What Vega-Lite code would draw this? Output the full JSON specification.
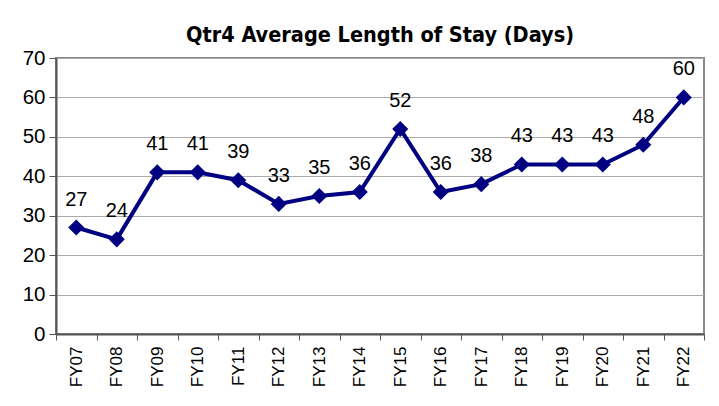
{
  "$schema": "https://vega.github.io/schema/vega-lite/v6.json",
  "width": 648,
  "height": 276,
  "autosize": {"type": "none"},
  "padding": {"left": 56, "top": 58, "right": 15, "bottom": 72},
  "background": "white",
  "title": {
    "text": "Qtr4 Average Length of Stay (Days)",
    "font": "DejaVu Sans Condensed, Roboto Condensed, Roboto, sans-serif",
    "fontSize": 21.5,
    "fontWeight": "bold",
    "color": "black",
    "anchor": "middle",
    "offset": 2
  },
  "data": {
    "values": [
      {"fy": "FY07", "v": 27},
      {"fy": "FY08", "v": 24},
      {"fy": "FY09", "v": 41},
      {"fy": "FY10", "v": 41},
      {"fy": "FY11", "v": 39},
      {"fy": "FY12", "v": 33},
      {"fy": "FY13", "v": 35},
      {"fy": "FY14", "v": 36},
      {"fy": "FY15", "v": 52},
      {"fy": "FY16", "v": 36},
      {"fy": "FY17", "v": 38},
      {"fy": "FY18", "v": 43},
      {"fy": "FY19", "v": 43},
      {"fy": "FY20", "v": 43},
      {"fy": "FY21", "v": 48},
      {"fy": "FY22", "v": 60}
    ]
  },
  "config": {
    "view": {"stroke": "#888888", "strokeWidth": 2},
    "axis": {"labelFont": "Liberation Sans", "labelColor": "black"}
  },
  "encoding": {
    "x": {
      "field": "fy", "type": "ordinal", "title": null,
      "scale": {"type": "band", "paddingInner": 0, "paddingOuter": 0},
      "axis": {
        "labelAngle": -90, "labelFontSize": 17, "labelPadding": 6,
        "tickBand": "extent", "tickColor": "#555555", "tickSize": 6,
        "domainColor": "#555555", "domainWidth": 2, "grid": false
      }
    },
    "y": {
      "field": "v", "type": "quantitative", "title": null,
      "scale": {"domain": [0, 70]},
      "axis": {
        "values": [0, 10, 20, 30, 40, 50, 60, 70],
        "labelFontSize": 20.5, "labelPadding": 4,
        "tickColor": "#555555", "tickSize": 7,
        "domainColor": "#555555", "domainWidth": 2,
        "gridColor": "#aaaaaa", "gridWidth": 1.2
      }
    }
  },
  "layer": [
    {"mark": {"type": "line", "color": "#000080", "strokeWidth": 4}},
    {"mark": {"type": "point", "shape": "diamond", "filled": true, "color": "#000080", "opacity": 1, "size": 260}},
    {
      "mark": {"type": "text", "dy": -28, "font": "Liberation Sans", "fontSize": 20, "color": "black"},
      "encoding": {"text": {"field": "v", "type": "quantitative"}}
    }
  ]
}
